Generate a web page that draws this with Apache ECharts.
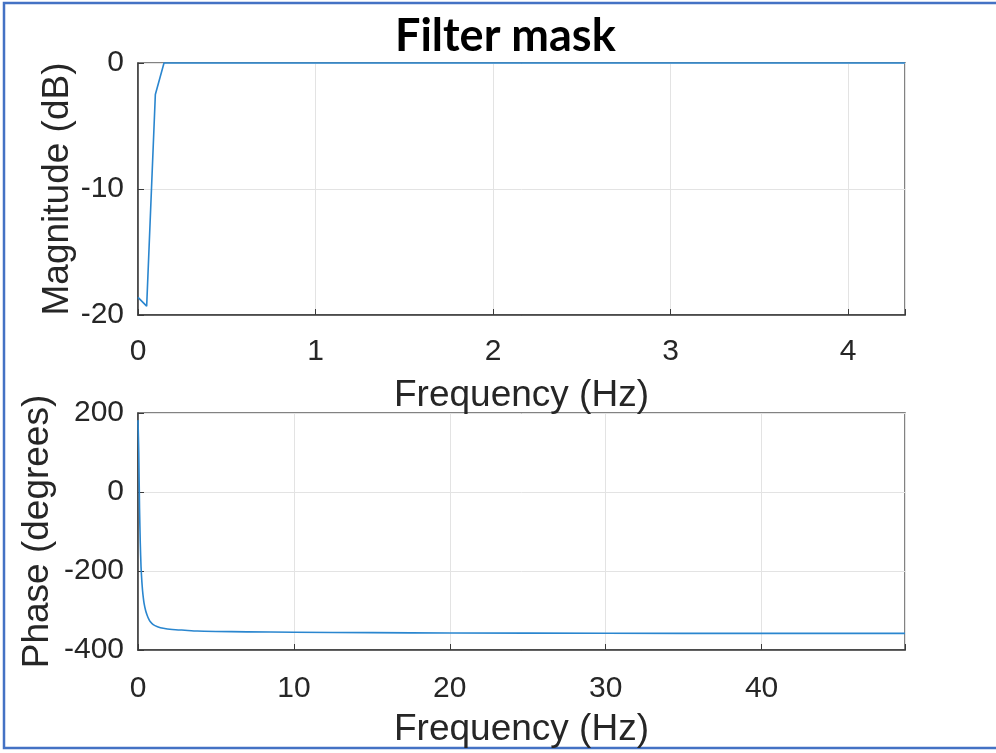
<!DOCTYPE html>
<html>
<head>
<meta charset="utf-8">
<script src="https://cdn.jsdelivr.net/npm/echarts@6/dist/echarts.min.js"></script>
<style>
  html, body { margin: 0; padding: 0; background: #fff; }
  #chart { width: 996px; height: 753px; }
</style>
</head>
<body>
<div id="chart"></div>
<script>
// Magnitude response (dB) on the low-frequency bins
const magFreq = [0, 0.0488, 0.0977, 0.1465, 4.32];
const magDb   = [-18.6, -19.3, -2.5, 0, 0];

// Phase response (degrees) over the full band
const phaseFreq = [0, 0.0488, 0.0977, 0.1465, 0.195, 0.244, 0.293, 0.342, 0.39, 0.488,
                   0.586, 0.684, 0.781, 0.977, 1.25, 1.62, 2.2, 3.0, 3.8, 5, 7, 10,
                   15, 20, 30, 40, 49.2];
const phaseDeg  = [182, 100, -40, -130, -190, -225, -250, -268, -282, -300,
                   -312, -321, -328, -336, -341, -345, -348, -350, -352, -353, -354, -355,
                   -356, -357, -357.5, -358, -358];

const magTicksX = [0, 1, 2, 3, 4];
const magTicksY = [-20, -10, 0];
const phaseTicksX = [0, 10, 20, 30, 40];
const phaseTicksY = [-400, -200, 0, 200];

const FONT = 'Liberation Sans, Arial, sans-serif';
const TXT = '#262626';
const LINE = '#2a86cf';

function xAxisCfg(gridIndex, max, ticks, interval, gap, margin) {
  return {
    type: 'value', gridIndex, min: 0, max, interval,
    name: 'Frequency (Hz)', nameLocation: 'middle', nameGap: gap,
    nameTextStyle: { fontFamily: FONT, fontSize: 37, color: TXT },
    axisLine: { show: true, onZero: false, lineStyle: { color: '#3a3a3a', width: 1.5 } },
    axisTick: { show: true, inside: true, length: 6, lineStyle: { color: '#3a3a3a' } },
    axisLabel: {
      fontFamily: FONT, fontSize: 30, color: TXT, margin,
      formatter: v => (ticks.indexOf(v) >= 0 ? String(v) : '')
    },
    splitLine: { show: true, lineStyle: { color: '#e3e3e3', width: 1 } }
  };
}

function yAxisCfg(gridIndex, min, max, interval, name, gap) {
  return {
    type: 'value', gridIndex, min, max, interval,
    name, nameLocation: 'middle', nameGap: gap, nameMoveOverlap: false,
    nameTextStyle: { fontFamily: FONT, fontSize: 37, color: TXT },
    axisLine: { show: true, onZero: false, lineStyle: { color: '#3a3a3a', width: 1.5 } },
    axisTick: { show: true, inside: true, length: 6, lineStyle: { color: '#3a3a3a' } },
    axisLabel: { fontFamily: FONT, fontSize: 30, color: TXT, margin: 14 },
    splitLine: { show: true, lineStyle: { color: '#e3e3e3', width: 1 } }
  };
}

const chart = echarts.init(document.getElementById('chart'), null, { renderer: 'canvas' });
chart.setOption({
  animation: false,
  backgroundColor: '#ffffff',
  title: {
    text: 'Filter mask', left: 390, top: 9,
    textStyle: { fontFamily: 'Lato, Open Sans, sans-serif', fontWeight: 'bold', fontSize: 45, color: '#000' }
  },
  graphic: [{
    type: 'rect', silent: true,
    shape: { x: 4, y: 3, width: 1100, height: 745 },
    style: { fill: 'none', stroke: '#4472c4', lineWidth: 2.5 }
  }],
  grid: [
    { left: 138, top: 63, right: 91, height: 252, show: true, borderColor: '#5a5a5a', borderWidth: 1.5, backgroundColor: 'transparent' },
    { left: 138, top: 413, right: 91, height: 237, show: true, borderColor: '#5a5a5a', borderWidth: 1.5, backgroundColor: 'transparent' }
  ],
  xAxis: [
    xAxisCfg(0, 4.32, magTicksX, 1, 62, 22),
    xAxisCfg(1, 49.2, phaseTicksX, 10, 61, 24)
  ],
  yAxis: [
    yAxisCfg(0, magTicksY[0], magTicksY[magTicksY.length - 1], 10, 'Magnitude (dB)', 62),
    yAxisCfg(1, phaseTicksY[0], phaseTicksY[phaseTicksY.length - 1], 200, 'Phase (degrees)', 82)
  ],
  series: [
    {
      type: 'line', xAxisIndex: 0, yAxisIndex: 0, showSymbol: false, clip: false,
      data: magFreq.map((f, i) => [f, magDb[i]]),
      lineStyle: { color: LINE, width: 1.6 }
    },
    {
      type: 'line', xAxisIndex: 1, yAxisIndex: 1, showSymbol: false, clip: false, smooth: 0.2,
      data: phaseFreq.map((f, i) => [f, phaseDeg[i]]),
      lineStyle: { color: LINE, width: 1.6 }
    }
  ]
});
</script>
</body>
</html>
